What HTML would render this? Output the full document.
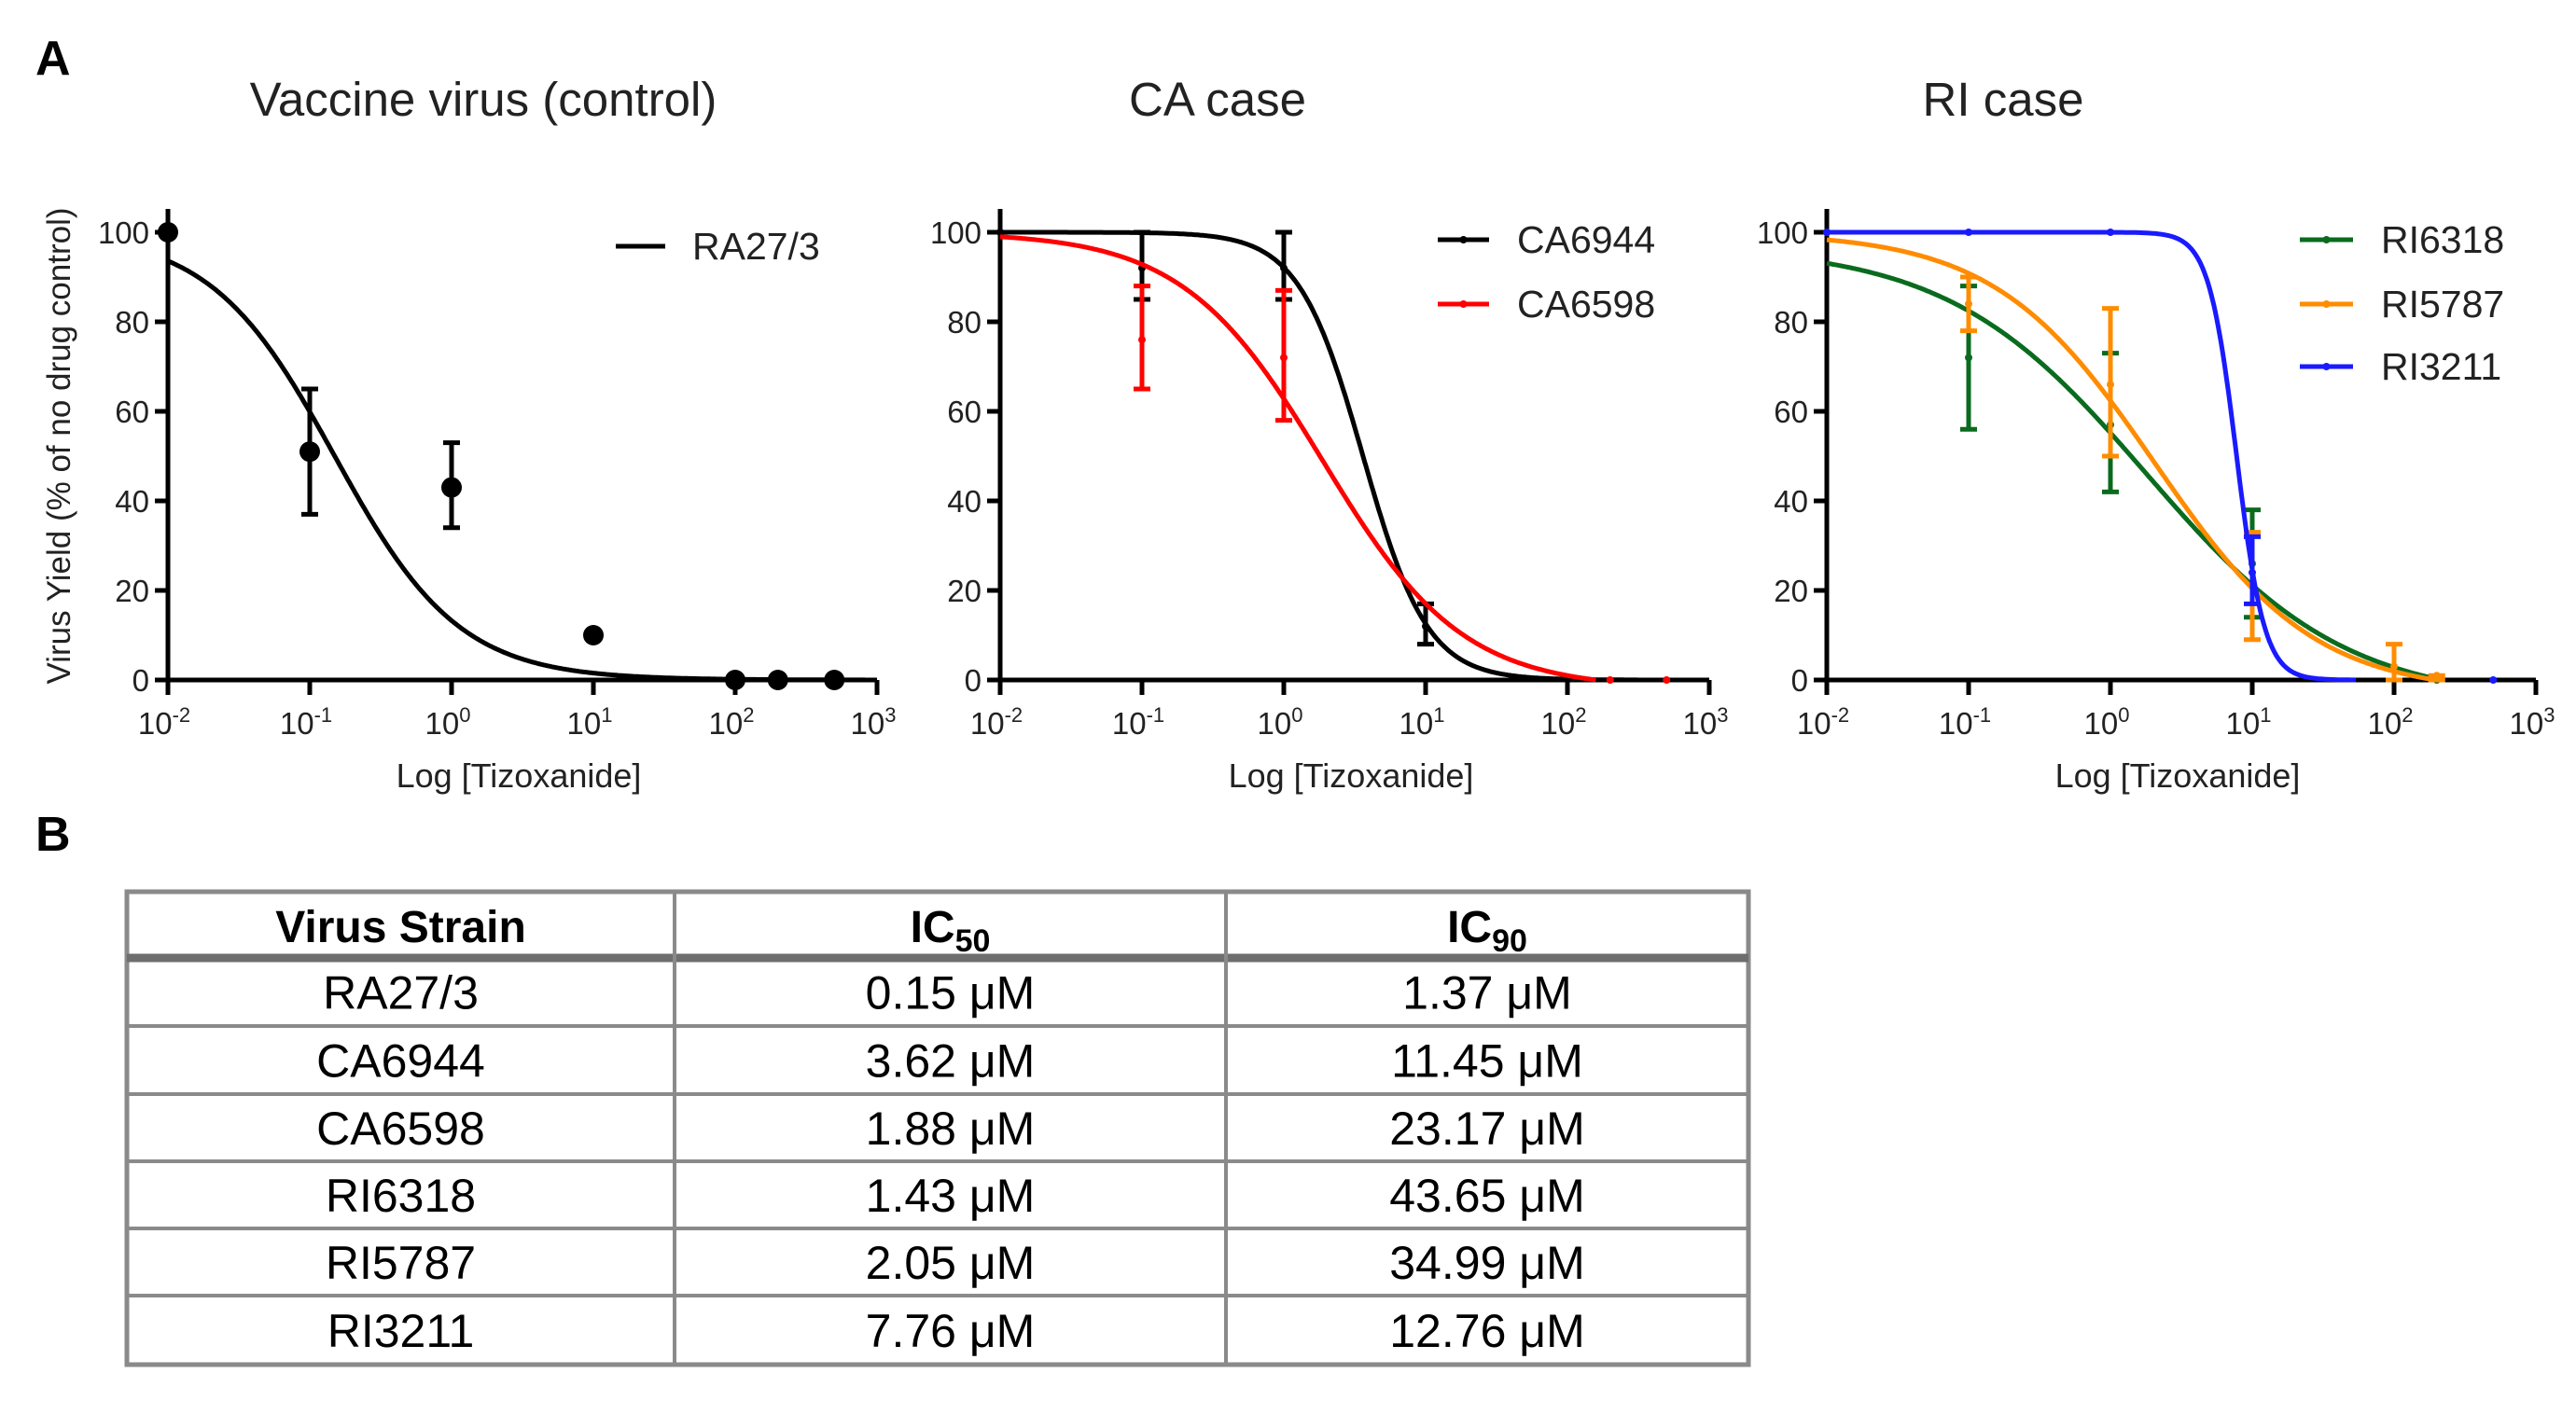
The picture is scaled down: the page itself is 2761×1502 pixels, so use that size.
<!DOCTYPE html>
<html><head><meta charset="utf-8"><style>
html,body{margin:0;padding:0;background:#fff;}
svg{display:block;font-family:"Liberation Sans",sans-serif;}
</style></head><body>
<svg id="fig" width="2761" height="1502" viewBox="0 0 2761 1502" xmlns="http://www.w3.org/2000/svg">
<text x="38" y="80" font-size="52" font-weight="bold">A</text>
<text x="38" y="912" font-size="52" font-weight="bold">B</text>
<g id="charts"></g>
<g id="table"></g>
</svg>
<script>
const xTicksExp = [-2,-1,0,1,2,3];
const yTicks = [0,20,40,60,80,100];
const panelTitles = ["Vaccine virus (control)","CA case","RI case"];
// fit params per curve: ic50, hill slope, top, bottom
const p1Names = ["RA27/3"]; const p1Colors=["#000"];
const p1IC50 = [0.15]; const p1Hill=[0.99]; const p1Top=[100]; const p1Bot=[0];
const p2Names = ["CA6944","CA6598"]; const p2Colors=["#000","#f00"];
const p2IC50 = [3.62,1.88]; const p2Hill=[1.91,0.88]; const p2Top=[100,100]; const p2Bot=[0,-2];
const p3Names = ["RI6318","RI5787","RI3211"]; const p3Colors=["#0a6b1e","#ff8c00","#1a1aff"];
const p3IC50 = [1.8,2.05,7.76]; const p3Hill=[0.62,0.77,4.42]; const p3Top=[97,100,100]; const p3Bot=[-5,-3,0];
// data points: x, mean, lo, hi
const ra_x=[0.01,0.1,1,10,100,200,500]; const ra_y=[100,51,43,10,0,0,0]; const ra_lo=[100,37,34,10,0,0,0]; const ra_hi=[100,65,53,10,0,0,0];
const ca44_x=[0.01,0.1,1,10]; const ca44_y=[100,92,92,12]; const ca44_lo=[100,85,85,8]; const ca44_hi=[100,100,100,17];
const ca98_x=[0.1,1,200,500]; const ca98_y=[76,72,0,0]; const ca98_lo=[65,58,0,0]; const ca98_hi=[88,87,0,0];
const ri18_x=[0.01,0.1,1,10,200]; const ri18_y=[100,72,57,26,0]; const ri18_lo=[100,56,42,14,0]; const ri18_hi=[100,88,73,38,0];
const ri87_x=[0.1,1,10,100,200]; const ri87_y=[84,66,21,3,1]; const ri87_lo=[78,50,9,0,0]; const ri87_hi=[90,83,33,8,1];
const ri11_x=[0.01,0.1,1,10,500]; const ri11_y=[100,100,100,24,0]; const ri11_lo=[100,100,100,17,0]; const ri11_hi=[100,100,100,32,0];
const tblHead=["Virus Strain","IC","IC"];
const tblStrain=["RA27/3","CA6944","CA6598","RI6318","RI5787","RI3211"];
const tblIC50=["0.15","3.62","1.88","1.43","2.05","7.76"];
const tblIC90=["1.37","11.45","23.17","43.65","34.99","12.76"];

const NS="http://www.w3.org/2000/svg";
function mk(tag,attrs,parent){const e=document.createElementNS(NS,tag);for(const k in attrs)e.setAttribute(k,attrs[k]);parent.appendChild(e);return e;}
const charts=document.getElementById('charts');
const panelX0=[180,1072,1958];
const titleX=[518,1305,2147];
const W=760, Y0=729, Y100=249;
function panel(i, names, colors, ic50, hill, top, bot, pts, legY, legX, legTX, dotLegend){
  const x0=panelX0[i];
  const sx=v=>x0+(Math.log10(v)+2)/5*W;
  const sy=v=>Y0-(v/100)*(Y0-Y100);
  const g=mk('g',{},charts);
  
  
  const t=mk('text',{x:titleX[i],y:124,'font-size':51,'text-anchor':'middle',fill:'#222'},g);
  t.textContent=panelTitles[i];
  
  
  const ax=mk('path',{d:`M${x0} 224 V${Y0} H${x0+W}`,stroke:'#000','stroke-width':5,fill:'none'},g);
  
  
  yTicks.forEach(v=>{
    mk('line',{x1:x0-14,x2:x0,y1:sy(v),y2:sy(v),stroke:'#000','stroke-width':5},g);
    const tl=mk('text',{x:x0-20,y:sy(v)+12,'font-size':33,'text-anchor':'end',fill:'#222'},g);
    tl.textContent=v;
    
    
  });
  xTicksExp.forEach(e=>{
    const x=sx(Math.pow(10,e));
    mk('line',{x1:x,x2:x,y1:Y0,y2:Y0+16,stroke:'#000','stroke-width':5},g);
    const tl=mk('text',{x:x-4,y:Y0+58,'font-size':33,'text-anchor':'middle',fill:'#222'},g);
    tl.innerHTML='10<tspan dy="-13" font-size="22">'+e+'</tspan>';
    
    
  });
  const xl=mk('text',{x:x0+W/2-4,y:844,'font-size':36,'text-anchor':'middle',fill:'#222','xml:space':'preserve'},g);
  xl.textContent='Log  [Tizoxanide]';
  
  
  names.forEach((n,k)=>{
    let d='';
    for(let s=0;s<=500;s++){const lx=-2+5*s/500;let v=bot[k]+(top[k]-bot[k])/(1+Math.pow(Math.pow(10,lx)/ic50[k],hill[k]));if(v<=0.02){v=0;d+='L'+sx(Math.pow(10,lx)).toFixed(1)+' '+sy(v).toFixed(1);break;}d+=(s?'L':'M')+sx(Math.pow(10,lx)).toFixed(1)+' '+sy(v).toFixed(1);}
    const c=mk('path',{d:d,stroke:colors[k],'stroke-width':5,fill:'none'},g);
    
    
    const P=pts[k];
    P.x.forEach((xv,j)=>{
      const X=sx(xv);
      if(P.hi[j]!==P.lo[j]){
        const eb=mk('path',{d:`M${X} ${sy(P.lo[j])}V${sy(P.hi[j])}M${X-9} ${sy(P.lo[j])}H${X+9}M${X-9} ${sy(P.hi[j])}H${X+9}`,stroke:colors[k],'stroke-width':5,fill:'none'},g);
        
        
      }
      const pt=mk('circle',{cx:X,cy:sy(P.y[j]),r:dotLegend?4:11,fill:colors[k]},g);
      
      
    });
    const ly=legY[k];
    const le=mk('g',{},g);
    
    
    mk('line',{x1:legX[0],x2:legX[1],y1:ly,y2:ly,stroke:colors[k],'stroke-width':5},le);
    if(dotLegend) mk('circle',{cx:(legX[0]+legX[1])/2,cy:ly,r:4,fill:colors[k]},le);
    const lt=mk('text',{x:legTX,y:ly+14,'font-size':41,fill:'#222'},le);
    lt.textContent=n;
  });
}
const P=(x,y,lo,hi)=>({x,y,lo,hi});
panel(0,p1Names,p1Colors,p1IC50,p1Hill,p1Top,p1Bot,[P(ra_x,ra_y,ra_lo,ra_hi)],[264],[660,713],742,false);
panel(1,p2Names,p2Colors,p2IC50,p2Hill,p2Top,p2Bot,[P(ca44_x,ca44_y,ca44_lo,ca44_hi),P(ca98_x,ca98_y,ca98_lo,ca98_hi)],[257,326],[1541,1596],1626,true);
panel(2,p3Names,p3Colors,p3IC50,p3Hill,p3Top,p3Bot,[P(ri18_x,ri18_y,ri18_lo,ri18_hi),P(ri87_x,ri87_y,ri87_lo,ri87_hi),P(ri11_x,ri11_y,ri11_lo,ri11_hi)],[257,326,393],[2465,2522],2552,true);
const yt=mk('text',{x:0,y:0,'font-size':35,'text-anchor':'middle',fill:'#222',transform:'translate(75,478) rotate(-90)'},charts);
yt.textContent='Virus Yield (% of no drug control)';


const tb=document.getElementById('table');
const L=136,R=1874,C1=723,C2=1314,T=956;
const rows=[1027,1100,1173,1245,1317,1389,1463];
mk('rect',{x:L,y:T,width:R-L,height:rows[6]-T,fill:'none',stroke:'#8a8a8a','stroke-width':5},tb);
mk('line',{x1:L,x2:R,y1:rows[0],y2:rows[0],stroke:'#6e6e6e','stroke-width':9},tb);
for(let r=1;r<6;r++) mk('line',{x1:L,x2:R,y1:rows[r],y2:rows[r],stroke:'#8a8a8a','stroke-width':4},tb);
[C1,C2].forEach(c=>mk('line',{x1:c,x2:c,y1:T,y2:rows[6],stroke:'#8a8a8a','stroke-width':4},tb));
const cc=[(L+C1)/2,(C1+C2)/2,(C2+R)/2];
const h0=mk('text',{x:cc[0],y:1010,'font-size':48,'font-weight':'bold','text-anchor':'middle'},tb);h0.textContent=tblHead[0];


const h1=mk('text',{x:cc[1],y:1010,'font-size':48,'font-weight':'bold','text-anchor':'middle'},tb);h1.innerHTML=tblHead[1]+'<tspan dy="10" font-size="34">50</tspan>';


const h2=mk('text',{x:cc[2],y:1010,'font-size':48,'font-weight':'bold','text-anchor':'middle'},tb);h2.innerHTML=tblHead[2]+'<tspan dy="10" font-size="34">90</tspan>';


tblStrain.forEach((s,r)=>{
  const y=(rows[r]+rows[r+1])/2+18;
  const a=mk('text',{x:cc[0],y:y,'font-size':50,'text-anchor':'middle'},tb);a.textContent=s;
  
  
  const b=mk('text',{x:cc[1],y:y,'font-size':50,'text-anchor':'middle'},tb);b.textContent=tblIC50[r]+' \u03BCM';
  
  
  const c=mk('text',{x:cc[2],y:y,'font-size':50,'text-anchor':'middle'},tb);c.textContent=tblIC90[r]+' \u03BCM';
  
  
});
</script>
</body></html>
